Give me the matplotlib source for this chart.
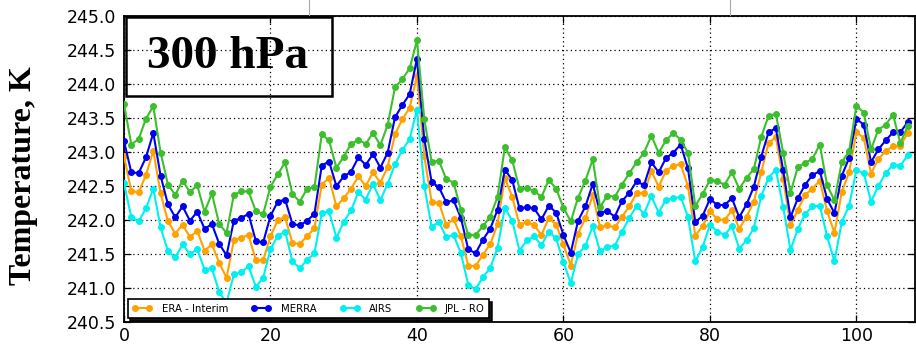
import matplotlib
matplotlib.use("Agg")
import matplotlib.pyplot as plt
from matplotlib.patches import Rectangle
from matplotlib.lines import Line2D
from matplotlib.ticker import FormatStrFormatter, MultipleLocator

# Monthly mean temperature at 300 hPa from four data sets
months = list(range(108))

era_interim = [
    242.94, 242.42, 242.41, 242.66, 243.02, 242.39, 241.98, 241.80, 241.93, 241.75,
    241.84, 241.55, 241.64, 241.37, 241.15, 241.70, 241.74, 241.78, 241.41, 241.41,
    241.76, 242.00, 242.04, 241.66, 241.65, 241.76, 241.88, 242.52, 242.62, 242.20,
    242.32, 242.46, 242.64, 242.50, 242.70, 242.55, 242.78, 243.26, 243.48, 243.65,
    244.12, 242.94, 242.27, 242.25, 241.93, 242.01, 241.76, 241.33, 241.32, 241.49,
    241.64, 241.94, 242.62, 242.34, 241.93, 241.97, 241.92, 241.78, 242.03, 241.93,
    241.64, 241.33, 241.80, 242.03, 242.37, 241.89, 241.92, 241.89, 242.05, 242.20,
    242.40, 242.39, 242.72, 242.49, 242.72, 242.80, 242.82, 242.50, 241.77, 241.91,
    242.13, 242.01, 242.00, 242.14, 241.87, 242.05, 242.27, 242.70, 243.13, 243.22,
    242.60, 241.92, 242.15, 242.37, 242.46, 242.58, 242.13, 241.81, 242.41, 242.70,
    243.29, 243.21, 242.68, 242.90, 243.01, 243.09, 243.09, 243.28,
]

merra = [
    243.16, 242.70, 242.69, 242.92, 243.28, 242.65, 242.23, 242.04, 242.20, 241.99,
    242.12, 241.87, 241.94, 241.65, 241.48, 241.99, 242.03, 242.09, 241.69, 241.67,
    242.06, 242.27, 242.30, 241.94, 241.92, 241.99, 242.09, 242.80, 242.86, 242.50,
    242.64, 242.71, 242.92, 242.81, 242.97, 242.77, 242.99, 243.51, 243.69, 243.85,
    244.37, 243.19, 242.56, 242.48, 242.26, 242.29, 242.03, 241.57, 241.51, 241.71,
    241.87, 242.15, 242.74, 242.59, 242.17, 242.19, 242.17, 242.01, 242.21, 242.11,
    241.78, 241.52, 241.99, 242.20, 242.53, 242.11, 242.13, 242.05, 242.28, 242.40,
    242.57, 242.51, 242.85, 242.70, 242.91, 242.99, 243.11, 242.76, 241.97, 242.06,
    242.31, 242.22, 242.22, 242.32, 242.04, 242.23, 242.49, 242.93, 243.29, 243.35,
    242.73, 242.04, 242.32, 242.52, 242.66, 242.72, 242.31, 242.10, 242.65, 242.91,
    243.49, 243.40, 242.85, 243.04, 243.17, 243.29, 243.29, 243.44,
]

airs = [
    242.54, 242.04, 241.98, 242.17, 242.46, 241.89, 241.54, 241.45, 241.64, 241.50,
    241.57, 241.27, 241.29, 240.94, 240.78, 241.20, 241.23, 241.32, 241.02, 241.15,
    241.57, 241.77, 241.83, 241.39, 241.29, 241.41, 241.51, 242.10, 242.13, 241.74,
    241.97, 242.14, 242.41, 242.30, 242.53, 242.29, 242.53, 242.82, 243.03, 243.19,
    243.62, 242.50, 241.90, 241.97, 241.75, 241.78, 241.51, 241.05, 240.98, 241.16,
    241.29, 241.59, 242.18, 241.99, 241.55, 241.70, 241.76, 241.63, 241.83, 241.73,
    241.38, 241.07, 241.50, 241.62, 241.91, 241.54, 241.61, 241.62, 241.83, 242.03,
    242.21, 242.09, 242.35, 242.11, 242.30, 242.32, 242.34, 242.05, 241.39, 241.60,
    241.93, 241.83, 241.78, 241.91, 241.58, 241.70, 241.88, 242.35, 242.62, 242.74,
    242.19, 241.56, 241.87, 242.09, 242.20, 242.21, 241.76, 241.39, 241.97, 242.21,
    242.73, 242.69, 242.27, 242.50, 242.69, 242.81, 242.80, 242.95,
]

jpl_ro = [
    243.70, 243.11, 243.19, 243.49, 243.67, 242.99, 242.52, 242.37, 242.58, 242.41,
    242.51, 242.12, 242.39, 241.94, 241.81, 242.37, 242.42, 242.42, 242.13, 242.09,
    242.49, 242.67, 242.85, 242.38, 242.27, 242.46, 242.48, 243.26, 243.17, 242.77,
    242.93, 243.12, 243.18, 243.12, 243.28, 243.10, 243.40, 243.95, 244.07, 244.23,
    244.64, 243.48, 242.86, 242.87, 242.60, 242.55, 242.15, 241.78, 241.78, 241.91,
    242.05, 242.34, 243.07, 242.88, 242.46, 242.47, 242.43, 242.34, 242.59, 242.46,
    242.18, 241.98, 242.33, 242.58, 242.89, 242.19, 242.36, 242.34, 242.52, 242.69,
    242.85, 242.99, 243.24, 242.99, 243.17, 243.28, 243.18, 242.99, 242.21, 242.38,
    242.59, 242.57, 242.52, 242.70, 242.46, 242.62, 242.75, 243.22, 243.53, 243.56,
    242.99, 242.40, 242.78, 242.84, 242.90, 243.11, 242.51, 242.29, 242.85, 243.01,
    243.68, 243.58, 243.04, 243.33, 243.40, 243.55, 243.13, 243.38,
]

series_labels = ["ERA - Interim", "MERRA", "AIRS", "JPL - RO"]
series_colors = ["#ffa200", "#0000ee", "#00f0f0", "#3cbf2c"]

fig = plt.figure(figsize=(9.16, 3.44), dpi=100)
fig.patch.set_facecolor("white")
ax = fig.add_axes([124 / 916, 1 - 322 / 344, 791 / 916, 306 / 344])

for values, label, color in zip([era_interim, merra, airs, jpl_ro],
                                series_labels, series_colors):
    ax.plot(months, values, "-o", color=color, markeredgecolor=color,
            lw=1.5, ms=4.0, label=label, zorder=3)

ax.set_xlim(0, 108)
ax.set_ylim(240.5, 245.0)
ax.xaxis.set_major_locator(MultipleLocator(20))
ax.yaxis.set_major_locator(MultipleLocator(0.5))
ax.yaxis.set_major_formatter(FormatStrFormatter("%.1f"))
ax.grid(True, color="black", linestyle=(0, (1, 2.5)), linewidth=0.9, zorder=1)
ax.tick_params(direction="in", top=True, right=True, length=5, width=0.9,
               labelsize=12.5)
ax.tick_params(axis="y", pad=6)
ax.tick_params(axis="x", pad=3.5)
for sp in ax.spines.values():
    sp.set_linewidth(1.3)

# Pressure level label in an outlined box
ax.add_patch(Rectangle((0.002, 0.739), 0.261, 0.258, transform=ax.transAxes,
                       fill=False, edgecolor="black", lw=1.8, zorder=5,
                       clip_on=False))
ax.text(0.131, 0.866, "300 hPa", transform=ax.transAxes, ha="center",
        va="center", fontsize=34, fontweight="bold",
        family="Liberation Serif", zorder=6)

leg = ax.legend(loc="lower left", ncol=4, fontsize=7.3, numpoints=2,
                handlelength=2.0, handletextpad=0.9, columnspacing=2.3,
                borderpad=0.45, borderaxespad=0.35, fancybox=False,
                shadow={"color": "black", "alpha": 0.9})
leg.get_frame().set_edgecolor("black")
leg.get_frame().set_linewidth(1.2)
leg.set_zorder(10)

fig.text(24 / 916, 1 - 176 / 344, "Temperature, K", rotation=90,
         ha="center", va="center", fontsize=23, fontweight="bold",
         family="Liberation Serif")

# Thin separators above the axes
for px in (309, 730):
    fig.add_artist(Line2D([px / 916, px / 916], [1.0, 1 - 15 / 344],
                          color="0.65", lw=0.8))

fig.savefig("out.png", dpi=100, facecolor="white")
